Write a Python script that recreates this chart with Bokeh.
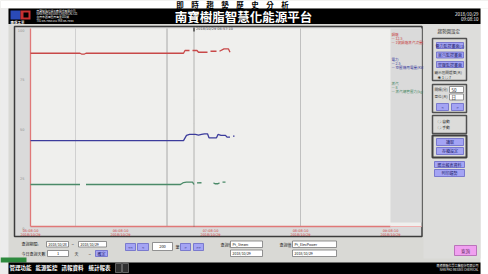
from bokeh.plotting import figure
from bokeh.models import Range1d
from bokeh.embed import file_html
from bokeh.resources import INLINE
from bokeh.core.properties import value

nan = float("nan")
CJK = "Noto Sans CJK TC"

# ---------------- data ----------------
time_ticks = [0, 60, 120, 180, 240]                       # minutes from start
time_tick_dates = ["2018/10/29"] * 5
time_tick_times = ["05:08:10", "06:08:10", "07:08:10", "08:08:10", "09:08:10"]
value_ticks = [0, 25, 50, 75, 100]
value_tick_labels = ["0", "25", "50", "75", "100"]
grid_times = [30, 91, 180]
cursor_time = 109
cursor_label = "2018/10/29 06:57:10"

red_t = [0, 33, 34, 36, 37, 102, 103, 106, 107, 108, 111, 112, 118, 119, 120, 124, 125, 126, 129, 132, 133]
red_v = [87.5, 87.5, 87.1, 87.1, 87.5, 87.5, 88.9, 88.9, nan, 88.9, 88.9, 88.0, 88.0, nan, 88.5, 88.5, nan, 88.5, 89.7, 89.7, 88.0]

blue_t = [0, 102, 104, 106, 110, 112, 114, 116, 118, 119, 124, 125, 127, 130, 131, 133, 134, 135, 136]
blue_v = [43.4, 43.4, 46.0, 46.5, 46.5, 46.2, 46.5, 46.8, 46.8, 44.8, 44.8, 46.5, 46.0, 46.0, 45.1, 45.1, nan, 45.6, 45.6]

green_t = [0, 33, 34, 37, 100, 102, 104, 108, 109, 110, 111, 114, 115, 122, 123, 125, 126, 127, 128, 130]
green_v = [21.2, 21.2, nan, 21.2, 21.2, 22.2, 22.4, 22.4, 21.2, nan, 22.0, 22.1, nan, 22.0, 21.6, 21.6, 22.0, nan, 22.4, 22.4]

series_colors = ["#c84848", "#3c3c9c", "#4a8a68"]
legend_lines = [
    ["鍋爐", "— 12.5", "— 1號鍋爐蒸汽流量(T/H)"],
    ["電力", "— 2.5", "— 空壓機用電量(KW)"],
    ["蒸汽", "— 8", "— 蒸汽總管壓力(kg)"],
]

# ---------------- layout constants (page pixel space) ----------------
W, H = 488, 274
PX0, PX1 = 30, 390         # plot area
PY_TOP, PY_BOT = 28, 226
T0, T1 = 0, 240
V0, V1 = 0, 100

tpp = (T1 - T0) / (PX1 - PX0)
vpp = (V1 - V0) / (PY_BOT - PY_TOP)

p = figure(width=W, height=H,
           x_range=Range1d(0, W), y_range=Range1d(H, 0),
           x_axis_location=None, y_axis_location=None,
           output_backend="svg", toolbar_location=None, min_border=0)
p.extra_x_ranges = {"t": Range1d(T0 - PX0 * tpp, T1 + (W - PX1) * tpp)}
p.extra_y_ranges = {"v": Range1d(V0 - (H - PY_BOT) * vpp, V1 + PY_TOP * vpp)}
p.grid.visible = False
p.outline_line_color = None
p.background_fill_color = "#d9d9d5"
p.border_fill_color = "#ffffff"


def box(l, t, r, b, fill, line=None, lw=1.0):
    p.quad(left=[l], right=[r], top=[t], bottom=[b], fill_color=fill,
           line_color=line, line_width=lw)


def txt(x, y, s, size, color="#222222", align="left", baseline="middle", bold=False, font=CJK):
    p.text(x=[x], y=[y], text=[s], text_font=value(font), text_font_size=f"{size}px",
           text_color=color, text_align=align, text_baseline=baseline,
           text_font_style="bold" if bold else "normal")


def button(l, t, r, b, label, fill="#a4a4f4", line="#6868c8", color="#1c1c6c", size=4):
    box(l, t, r, b, fill, line, 0.8)
    txt((l + r) / 2, (t + b) / 2 + 0.3, label, size, color, align="center")


def inp(l, t, r, b, label="", size=4.5, align="left"):
    box(l, t, r, b, "#ffffff", "#7a7a7a", 0.8)
    if label:
        x = l + 2 if align == "left" else (l + r) / 2
        txt(x, (t + b) / 2 + 0.3, label, size, "#111111", align=align)


# ---------------- page surroundings ----------------
box(0, 0, W, 8, "#ffffff")
box(0, 8, 8, H, "#ececec")
box(480, 8, W, H, "#ffffff")
txt(232, 4.2, "即　時　趨　勢　歷　史　分　析", 7.5, "#000000", align="center", bold=True)

# ---------------- header ----------------
box(8, 8, 480, 23.5, "#000000")
box(10, 10, 20, 19, "#2a4ab8")
box(20, 10, 30, 19, "#c83030")
box(23, 12, 28, 17, "#000000")
txt(10, 21.5, "南寶工業", 3.5, "#ffffff", bold=True)
for i, s in enumerate(["南寶樹脂化學工廠股份有限公司",
                       "NAN PAO RESINS CHEMICAL CO.",
                       "台南市西港區南海里101號",
                       "TEL:06-7953131 FAX:06-7953"]):
    txt(36, 10.5 + i * 3.2, s, 2.8, "#ffffff")
txt(243, 16, "南寶樹脂智慧化能源平台", 12.5, "#ffffff", align="center", bold=True)
txt(478, 13, "2018/10/29", 4.5, "#ffffff", align="right")
txt(478, 18, "09:08:10", 4.5, "#ffffff", align="right")

# ---------------- chart panel ----------------
box(14, 26, 421.5, 236, "#dadada", "#3c3c3c", 1.5)
box(PX0, PY_TOP, 421, PY_BOT, "#efefed")
box(PX1, PY_TOP, 421, 222, "#dadada")

p.segment(x0=grid_times, x1=grid_times, y0=[V0] * len(grid_times), y1=[V1] * len(grid_times),
          x_range_name="t", y_range_name="v", line_color=["#d0d0d0", "#a8a8a8", "#c0c0c0"], line_width=1)

p.segment(x0=[T0, T0], x1=[T0, T1], y0=[V0, V0], y1=[V1, V0],
          x_range_name="t", y_range_name="v", line_color="#e07878", line_width=1.3)
p.segment(x0=[T1], x1=[T1 + 31 * tpp], y0=[V0], y1=[V0],
          x_range_name="t", y_range_name="v", line_color="#f0b0b0", line_width=1)

p.text(x=[T0 - 6 * tpp] * len(value_ticks), y=value_ticks, text=value_tick_labels,
       x_range_name="t", y_range_name="v", text_font=value("DejaVu Sans"), text_font_size="3.5px",
       text_color="#909090", text_align="right", text_baseline="top")

p.text(x=time_ticks, y=[V0 - 2.5 * vpp] * len(time_ticks), text=time_tick_times,
       x_range_name="t", y_range_name="v", text_font=value("DejaVu Sans"), text_font_size="3.5px",
       text_color="#d04040", text_align="center", text_baseline="top")
p.text(x=time_ticks, y=[V0 - 6.5 * vpp] * len(time_ticks), text=time_tick_dates,
       x_range_name="t", y_range_name="v", text_font=value("DejaVu Sans"), text_font_size="3.5px",
       text_color="#d04040", text_align="center", text_baseline="top")

p.segment(x0=[cursor_time], x1=[cursor_time], y0=[V0], y1=[V1], x_range_name="t", y_range_name="v",
          line_color="#555555", line_width=0.8, line_dash="1 1")
p.segment(x0=[cursor_time], x1=[cursor_time], y0=[V1 - 3 * vpp], y1=[V1 + 1 * vpp], x_range_name="t",
          y_range_name="v", line_color="#222222", line_width=1.2)
p.text(x=[cursor_time + 2 * tpp], y=[V1 - 0.5 * vpp], text=[cursor_label], x_range_name="t", y_range_name="v",
       text_font=value("DejaVu Sans"), text_font_size="3.5px", text_color="#444444", text_baseline="middle")

for t, v, c in [(red_t, red_v, series_colors[0]), (blue_t, blue_v, series_colors[1]),
                (green_t, green_v, series_colors[2])]:
    p.line(x=t, y=v, x_range_name="t", y_range_name="v", line_color=c, line_width=1.3)

for k, (lines, c) in enumerate(zip(legend_lines, series_colors)):
    y0 = 34 + k * 24.5
    for j, s in enumerate(lines):
        txt(391, y0 + j * 4, s, 3.6, c)

# ---------------- right panel ----------------
box(423, 24, 480, 258, "#dddddb")
txt(437, 30, "趨勢圖設定", 4.5, "#333333")
box(432, 38, 466, 80, "#dcdcda", "#505050", 1.5)
button(436, 42, 463, 48, "電力監控畫面(1)")
button(436, 51.5, 463, 57.5, "蒸汽監控畫面")
button(436, 61, 463, 67, "空壓監控畫面")
txt(434, 72, "顯示區間選擇(天)", 3.6, "#333333")
txt(437, 77, "◉ 1  ○ 7", 3.6, "#333333")

box(432, 84, 466, 112, "#dcdcda", "#505050", 1.5)
txt(434, 89, "間隔(分)", 3.6, "#333333")
inp(449, 86, 463, 92, "50", 4.5)
txt(434, 96, "單位(天)", 3.6, "#333333")
inp(449, 93.5, 463, 99.5, "日", 4.5)
button(436, 103, 448, 110, "<")
button(451, 103, 463, 110, ">")

box(432, 115, 466, 133, "#dcdcda", "#505050", 1.5)
txt(437, 121, "○ 自動", 3.8, "#333333")
txt(437, 127, "○ 手動", 3.8, "#333333")

box(432, 135, 466, 157, "#dcdcda", "#404040", 2)
button(436, 138, 463, 145, "讀取")
button(436, 147, 463, 154, "存檔設定")
button(434, 161, 464, 167, "匯出報表資料")
button(434, 169, 464, 176, "列印趨勢")

# ---------------- bottom controls ----------------
txt(21, 243.5, "查詢期間:", 4, "#222222")
inp(46, 241, 68, 246.5, "2018/10/28", 3.5)
txt(71, 243.5, "~", 4, "#222222")
inp(78, 241, 106, 246.5, "2018/10/29", 3.5)
txt(21, 253, "今日查詢天數", 4, "#222222")
inp(47, 250, 68, 256, "1", 4, align="center")
txt(74, 253, "天", 4, "#222222")
txt(88, 253, "~", 4, "#222222")
button(95, 250, 107, 256, "確定")

button(125, 243, 135, 250, "<<")
button(137, 243, 148, 250, "<")
inp(152, 242, 172, 250, "200", 4, align="center")
txt(175, 246, "筆", 4, "#222222")
button(180, 243, 190, 250, ">")
button(193, 243, 203, 250, ">>")

txt(220, 244, "查詢值", 4, "#222222")
inp(230, 240.5, 262, 247, "Pt_Steam", 3.5)
inp(230, 249.5, 262, 256, "2018/10/29", 3.5)
txt(279, 244, "查詢值", 4, "#222222")
inp(292, 240.5, 336, 247, "Pt_ElecPower", 3.5)
inp(292, 249.5, 336, 256, "2018/10/29", 3.5)

button(454, 245, 476, 255, "查詢", fill="#f0a0f0", line="#b060b0", color="#502050", size=4.5)

# ---------------- bottom menu bar ----------------
box(0, 257, 26, 262, "#2e8a3e")
box(8, 262, 480, 274, "#000000")
for x, s in [(9, "管理功能"), (35, "能源監控"), (61, "訊報資料"), (88, "統計報表")]:
    txt(x, 267.5, s, 5.5, "#ffffff", bold=True)
box(115, 263, 121, 272, "#303030", "#aaaaaa", 0.5)
box(122, 263, 128, 272, "#303030", "#aaaaaa", 0.5)
txt(478, 265.5, "南寶樹脂化學工廠股份有限公司", 3, "#ffffff", align="right")
txt(478, 269.5, "NAN PAO RESINS CHEMICAL", 3, "#ffffff", align="right")

open("out.html", "w").write(file_html(p, INLINE))
